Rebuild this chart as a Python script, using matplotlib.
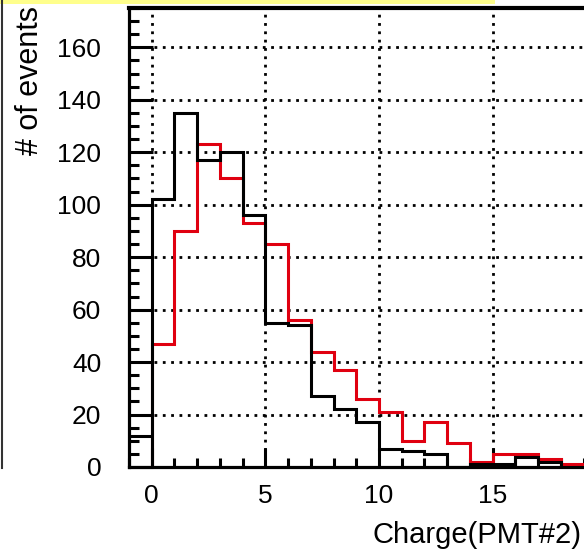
import matplotlib
matplotlib.use('Agg')
import matplotlib.pyplot as plt
from matplotlib.lines import Line2D
from matplotlib.patches import Rectangle
import numpy as np

plt.rcParams['font.family'] = ['Liberation Sans', 'DejaVu Sans']

# bins of width 1 starting at charge 0
edges = np.arange(0, 21)
black_counts = [102, 135, 117, 120, 96, 55, 54, 27, 22, 17, 7, 6, 5, 0, 1, 1, 4, 2, 0, 0]
red_counts = [47, 90, 123, 110, 93, 85, 56, 44, 37, 26, 21, 10, 17, 9, 2, 5, 5, 3, 1, 1]
# short black step left of zero
under_edges = [-1, 0]
under_black = [12]

xticks = [0, 5, 10, 15]
yticks = [0, 20, 40, 60, 80, 100, 120, 140, 160]

fig = plt.figure(figsize=(5.84, 5.5), dpi=100)
W, H = 584, 550
ax = fig.add_axes([129 / W, 83 / H, 21 * 22.73 / W, 459 / H])
ax.set_xlim(-1, 20)
ax.set_ylim(0, 175)

ax.set_xticks(xticks)
ax.set_yticks(yticks)
ax.set_xticks(np.arange(-1, 21, 1), minor=True)
ax.set_yticks(np.arange(0, 176, 5), minor=True)
ax.grid(True, which='major', color='black', linestyle=(0, (1, 2)), linewidth=2.0)
ax.set_axisbelow(True)

ax.stairs(red_counts, edges, baseline=0, color='#e00010', linewidth=2.2, zorder=3)
ax.stairs(black_counts, edges, baseline=0, color='black', linewidth=2.2, zorder=4)
ax.stairs(under_black, under_edges, baseline=None, color='black', linewidth=2.2, zorder=4)

for s in ax.spines.values():
    s.set_linewidth(2.3)
ax.spines['top'].set_linewidth(3.0)

ax.tick_params(which='both', direction='in', width=2.2, labelsize=19, top=False, right=False)
ax.tick_params(axis='y', which='major', length=17, pad=20)
ax.tick_params(axis='y', which='minor', length=7)
ax.tick_params(axis='x', which='major', length=13.5, pad=12)
ax.tick_params(axis='x', which='minor', length=6.5)

fig.text(30 / W, 1 - 6 / H, '# of events', rotation=90, ha='center', va='top', fontsize=22)
fig.text(581 / W, 1 - 535 / H, 'Charge(PMT#2)', ha='right', va='center', fontsize=21)

# yellow strip and left pad edge
fig.add_artist(Rectangle((0, 1 - 4 / H), 495 / W, 4 / H, transform=fig.transFigure,
                         color='#ffff8c', linewidth=0))
fig.add_artist(Line2D([1.5 / W, 1.5 / W], [1, 1 - 468 / H], transform=fig.transFigure,
                      color='#333333', linewidth=1.5))

fig.savefig('out.png', dpi=100)
